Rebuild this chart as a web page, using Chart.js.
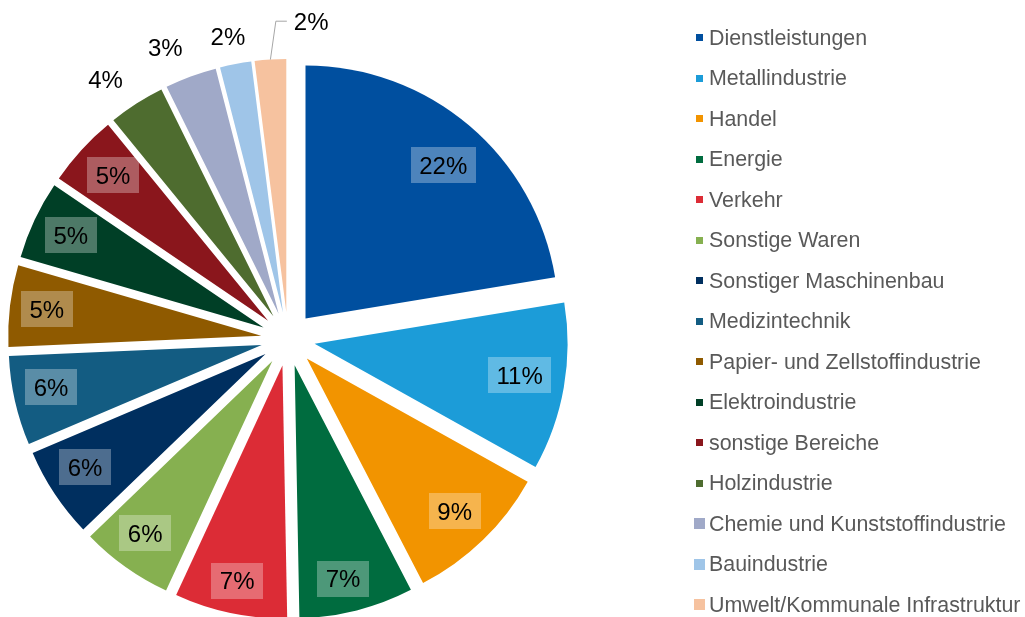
<!DOCTYPE html>
<html lang="de">
<head>
<meta charset="utf-8">
<title>Branchenverteilung</title>
<script src="https://cdn.jsdelivr.net/npm/chart.js@4.4.1/dist/chart.umd.min.js"></script>
<style>
  html, body { margin: 0; padding: 0; background: #fff; }
  #wrap { position: relative; width: 1025px; height: 617px; overflow: hidden; }
  #legend { position: absolute; left: 0; top: 0; width: 1025px; height: 617px; pointer-events: none;
            font-family: "Liberation Sans", Arial, sans-serif; font-size: 21.4px; color: #595959; }
  .item { position: absolute; left: 0; height: 24px; line-height: 24px; white-space: nowrap; }
  .box { position: absolute; }
  .txt { position: absolute; left: 709px; top: 0; }
</style>
</head>
<body>
<div id="wrap">
  <canvas id="pie" width="1025" height="617"></canvas>
  <div id="legend"></div>
</div>
<script>
const labels = [
  'Dienstleistungen', 'Metallindustrie', 'Handel', 'Energie', 'Verkehr',
  'Sonstige Waren', 'Sonstiger Maschinenbau', 'Medizintechnik',
  'Papier- und Zellstoffindustrie', 'Elektroindustrie', 'sonstige Bereiche',
  'Holzindustrie', 'Chemie und Kunststoffindustrie', 'Bauindustrie',
  'Umwelt/Kommunale Infrastruktur'
];
const values = [22.4, 10.7, 9.3, 7.3, 7.2, 5.9, 5.8, 5.7, 5.2, 5.0, 4.6, 3.6, 3.3, 2.0, 2.0];
const colors = [
  '#004F9F', '#1C9CD8', '#F29400', '#006C3F', '#DC2C36',
  '#86B050', '#002F5F', '#135C82', '#8F5A00', '#003F26',
  '#8A161C', '#4E6C2F', '#A0A9C8', '#9FC5E8', '#F6C29F'
];
// legend marker size (the last three are drawn bigger in the original)
const legendBox = [7, 7, 7, 7, 7, 7, 7, 7, 7, 7, 7, 7, 11, 11, 11];
// label placement: distance from the slice tip (x radius) and turn in degrees
const labelDist = [0.815, 0.82, 0.84, 0.866, 0.87, 0.846, 0.842, 0.849, 0.854, 0.845, 0.84, 1.146, 1.145, 1.114, 1.14];
const labelTurn = [1.6, -1.2, 0, 1.45, 0, 1, 1.4, 1.5, 0.3, 0.45, 0.7, -2.6, -2.7, -0.45, 0];

const EXPLODE = 27;
const total = values.reduce((a, b) => a + b, 0);
const pct = v => Math.round(v / total * 100) + '%';

// move every slice out along its bisector, then let the arc draw itself
const explodePlugin = {
  id: 'explode',
  beforeDatasetDraw(chart, args) {
    const ctx = chart.ctx;
    args.meta.data.forEach(arc => {
      const mid = (arc.startAngle + arc.endAngle) / 2;
      ctx.save();
      ctx.translate(Math.cos(mid) * EXPLODE, Math.sin(mid) * EXPLODE);
      arc.draw(ctx);
      ctx.restore();
    });
    return false;
  }
};

// percentage labels, inside with a light box or outside
const labelPlugin = {
  id: 'pctLabels',
  afterDraw(chart) {
    const ctx = chart.ctx;
    const meta = chart.getDatasetMeta(0);
    ctx.save();
    ctx.font = '24px "Liberation Sans", Arial, sans-serif';
    ctx.textAlign = 'center';
    ctx.textBaseline = 'alphabetic';
    meta.data.forEach((arc, i) => {
      const mid = (arc.startAngle + arc.endAngle) / 2;
      const r = arc.outerRadius;
      const ox = arc.x + Math.cos(mid) * EXPLODE;
      const oy = arc.y + Math.sin(mid) * EXPLODE;
      const text = pct(values[i]);
      const inside = values[i] / total >= 0.045;
      const a = mid + labelTurn[i] * Math.PI / 180;
      let x = ox + Math.cos(a) * labelDist[i] * r;
      let y = oy + Math.sin(a) * labelDist[i] * r;
      const w = ctx.measureText(text).width;
      if (inside) {
        ctx.fillStyle = 'rgba(255,255,255,0.3)';
        ctx.fillRect(Math.round(x - w / 2 - 8.5), Math.round(y - 18), Math.round(w + 17), 36);
      } else if (i === values.length - 1) {
        // last slice gets a leader line to a label shifted right
        x += 43; y -= 3;
        const sx = ox + Math.cos(mid) * r;
        const sy = oy + Math.sin(mid) * r;
        const left = x - w / 2;
        ctx.strokeStyle = '#A6A6A6';
        ctx.lineWidth = 1;
        ctx.beginPath();
        ctx.moveTo(sx, sy);
        ctx.lineTo(left - 18, y);
        ctx.lineTo(left - 7, y);
        ctx.stroke();
      }
      ctx.fillStyle = '#000';
      ctx.fillText(text, x, y + 8.6);
    });
    ctx.restore();
  }
};

new Chart(document.getElementById('pie'), {
  type: 'pie',
  data: {
    labels: labels,
    datasets: [{
      data: values,
      backgroundColor: colors,
      borderWidth: 0,
      clip: false
    }]
  },
  options: {
    responsive: false,
    animation: false,
    events: [],
    layout: { padding: { left: 35, top: 86, right: 484, bottom: 25 } },
    plugins: {
      legend: { display: false },
      tooltip: { enabled: false }
    }
  },
  plugins: [explodePlugin, labelPlugin]
});

// legend on the right
const legend = document.getElementById('legend');
labels.forEach((name, i) => {
  const cy = 37.7 + i * 40.52;
  const item = document.createElement('div');
  item.className = 'item';
  item.style.top = (cy - 12) + 'px';
  const s = legendBox[i];
  const box = document.createElement('span');
  box.className = 'box';
  box.style.width = s + 'px';
  box.style.height = s + 'px';
  box.style.left = (699.5 - s / 2) + 'px';
  box.style.top = (12 - s / 2) + 'px';
  box.style.background = colors[i];
  const txt = document.createElement('span');
  txt.className = 'txt';
  txt.textContent = name;
  item.appendChild(box);
  item.appendChild(txt);
  legend.appendChild(item);
});
</script>
</body>
</html>
